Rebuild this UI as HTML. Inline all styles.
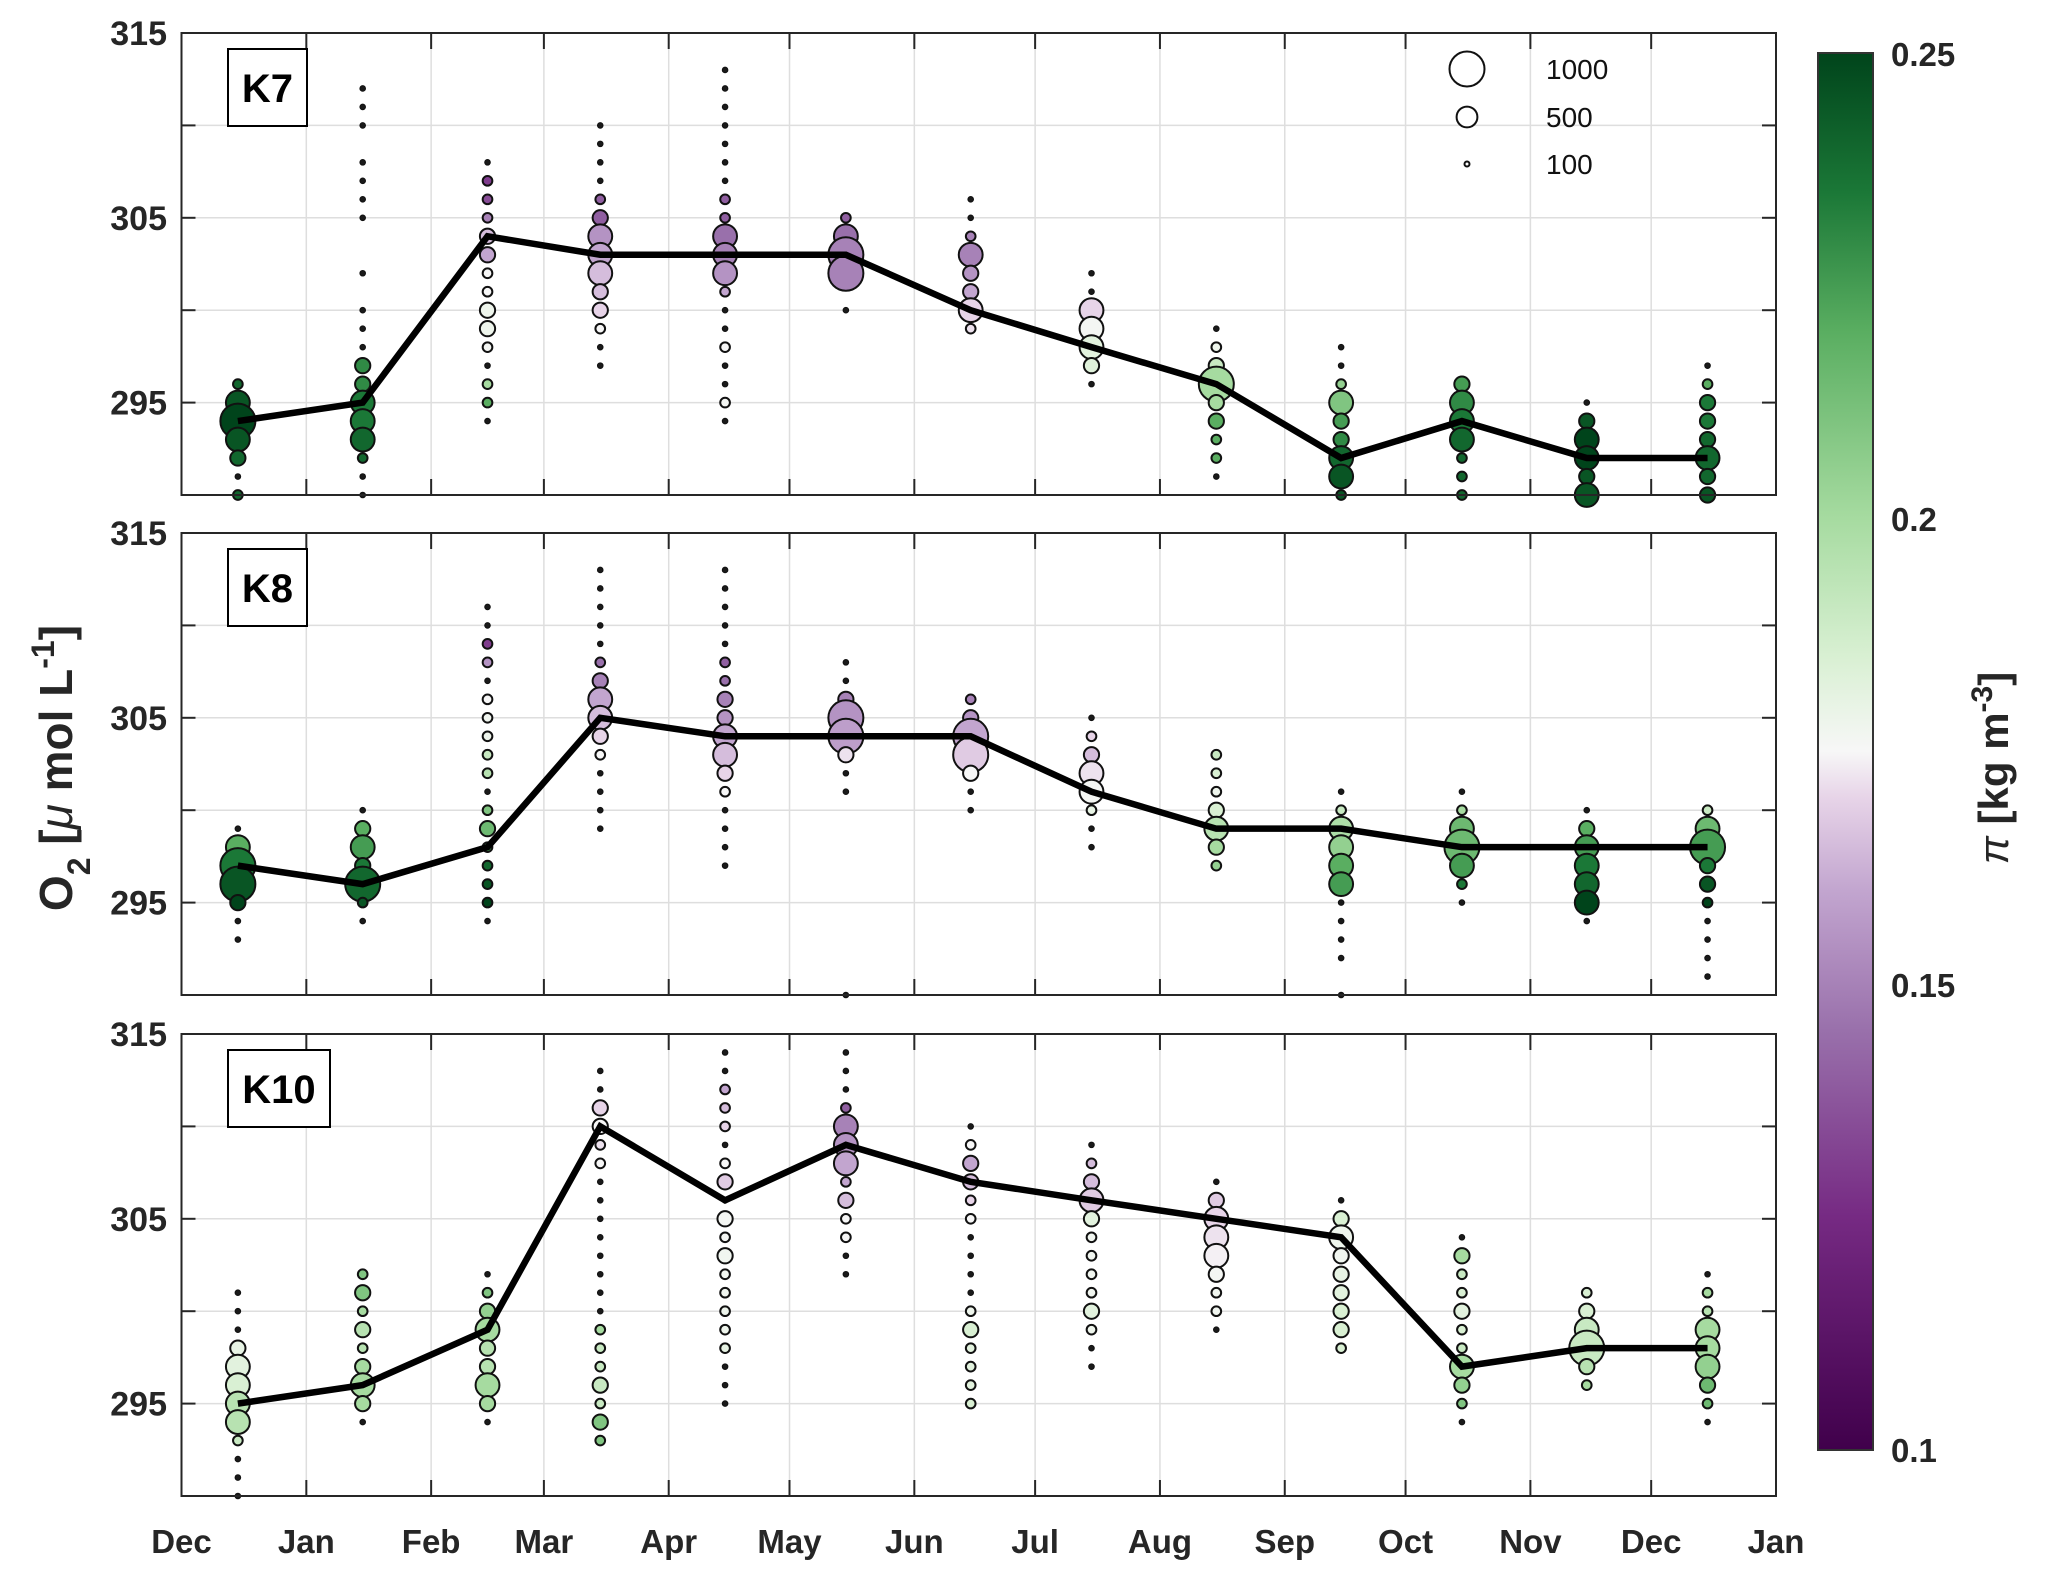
<!DOCTYPE html>
<html><head><meta charset="utf-8"><style>
html,body{margin:0;padding:0;background:#fff;}
svg{display:block;font-family:"Liberation Sans",Arial,sans-serif;}
</style></head><body>
<svg id="chart" width="2067" height="1572" viewBox="0 0 2067 1572" xmlns="http://www.w3.org/2000/svg">
<defs>
<linearGradient id="cmap" x1="0" y1="1" x2="0" y2="0">
<stop offset="0" stop-color="#40004b"/><stop offset="0.167" stop-color="#762a83"/><stop offset="0.3" stop-color="#9970ab"/><stop offset="0.4" stop-color="#c2a5cf"/><stop offset="0.467" stop-color="#e7d4e8"/><stop offset="0.5" stop-color="#f7f7f7"/><stop offset="0.567" stop-color="#d9f0d3"/><stop offset="0.667" stop-color="#a6dba0"/><stop offset="0.8" stop-color="#5aae61"/><stop offset="0.9" stop-color="#1b7837"/><stop offset="1" stop-color="#00441b"/>
</linearGradient>
</defs>
<g id="panels"></g>
<g>
<rect x="1818" y="53" width="55" height="1397" fill="url(#cmap)" stroke="#333" stroke-width="2"/>
<text x="1891" y="66" font-size="33" font-weight="bold" fill="#262626">0.25</text>
<text x="1891" y="531" font-size="33" font-weight="bold" fill="#262626">0.2</text>
<text x="1891" y="997" font-size="33" font-weight="bold" fill="#262626">0.15</text>
<text x="1891" y="1462" font-size="33" font-weight="bold" fill="#262626">0.1</text>
<text transform="translate(2008,768) rotate(-90)" text-anchor="middle" font-size="42" font-weight="bold" fill="#262626"><tspan font-style="italic" font-weight="normal">π</tspan> [kg m<tspan baseline-shift="super" font-size="30">-3</tspan>]</text>
</g>
<text transform="translate(72,768) rotate(-90)" text-anchor="middle" font-size="46" font-weight="bold" fill="#262626">O<tspan baseline-shift="sub" font-size="32">2</tspan> [<tspan font-style="italic" font-weight="normal">μ</tspan> mol L<tspan baseline-shift="super" font-size="32">-1</tspan>]</text>
</svg>
<script>
// ----- data -----
const months = ["Dec","Jan","Feb","Mar","Apr","May","Jun","Jul","Aug","Sep","Oct","Nov","Dec","Jan"];
const monthStartDays = [0,31,62,90,121,151,182,212,243,274,304,335,365,396];
const yTicks = [315,305,295];
const stations = ["K7","K8","K10"];
const k7Line = [294,295,304,303,303,303,300,298,296,292,294,292,292];
const k8Line = [297,296,298,305,304,304,304,301,299,299,298,298,298];
const k10Line = [295,296,299,310,306,309,307,306,305,304,297,298,298];
const legendCounts = [1000,500,100];
// columns: [monthIndex, topO2, [[count, pi], ...]] dots descend 1 unit each
const k7Dots = [
[0,296,[[180,.24],[600,.245],[1000,.25],[600,.245],[330,.24],[60,.24],[180,.24]]],
[1,312,[[60,.17],[60,.17],[60,.17],[0,0],[60,.17],[60,.17],[60,.17],[60,.17],[0,0],[0,0],[60,.17],[0,0],[60,.17],[60,.17],[60,.17],[330,.23],[330,.23],[600,.235],[600,.235],[600,.24],[180,.24],[60,.24],[60,.24]]],
[2,308,[[60,.17],[180,.13],[180,.135],[180,.15],[330,.165],[330,.16],[180,.175],[180,.175],[330,.178],[330,.178],[180,.176],[60,.17],[180,.2],[180,.22],[60,.17]]],
[3,310,[[60,.17],[60,.17],[60,.17],[60,.17],[180,.14],[330,.14],[600,.155],[600,.16],[600,.165],[330,.165],[330,.17],[180,.175],[60,.17],[60,.17]]],
[4,313,[[60,.17],[60,.17],[60,.17],[60,.17],[60,.17],[60,.17],[60,.17],[180,.14],[180,.14],[600,.145],[600,.15],[600,.155],[180,.16],[60,.17],[60,.17],[180,.175],[60,.17],[60,.17],[180,.176],[60,.17]]],
[5,305,[[180,.14],[600,.145],[1000,.15],[1000,.15],[0,0],[60,.17]]],
[6,306,[[60,.17],[60,.17],[180,.15],[600,.15],[330,.155],[330,.16],[600,.17],[180,.172]]],
[7,302,[[60,.17],[60,.17],[600,.17],[600,.176],[600,.182],[330,.183],[60,.17]]],
[8,299,[[60,.17],[180,.178],[330,.19],[1000,.2],[330,.2],[330,.22],[180,.22],[180,.22],[60,.2]]],
[9,298,[[60,.17],[60,.17],[180,.205],[600,.21],[330,.225],[330,.23],[600,.24],[600,.245],[180,.245]]],
[10,296,[[330,.225],[600,.23],[600,.235],[600,.24],[180,.24],[180,.24],[180,.24]]],
[11,295,[[60,.2],[330,.245],[600,.25],[600,.25],[330,.245],[600,.245]]],
[12,297,[[60,.17],[180,.22],[330,.235],[330,.235],[330,.24],[600,.24],[330,.24],[330,.245]]]
];
const k8Dots = [
[0,299,[[60,.2],[600,.22],[1000,.235],[1000,.245],[330,.25],[60,.24],[60,.24]]],
[1,300,[[60,.2],[330,.22],[600,.225],[330,.235],[1000,.24],[180,.245],[60,.24]]],
[2,311,[[60,.17],[60,.17],[180,.13],[180,.155],[60,.17],[180,.175],[180,.177],[180,.178],[180,.19],[180,.195],[60,.19],[180,.21],[330,.215],[180,.225],[180,.24],[180,.245],[180,.25],[60,.24]]],
[3,313,[[60,.17],[60,.17],[60,.17],[60,.17],[60,.17],[180,.145],[330,.15],[600,.16],[600,.165],[330,.17],[180,.175],[60,.17],[60,.17],[60,.17],[60,.17]]],
[4,313,[[60,.17],[60,.17],[60,.17],[60,.17],[60,.17],[180,.14],[180,.145],[330,.15],[330,.155],[600,.16],[600,.165],[330,.17],[180,.175],[60,.17],[60,.17],[60,.17],[60,.17]]],
[5,308,[[60,.17],[60,.17],[330,.15],[1000,.155],[1000,.158],[330,.172],[60,.17],[60,.17],[0,0],[0,0],[0,0],[0,0],[0,0],[0,0],[0,0],[0,0],[0,0],[0,0],[60,.17]]],
[6,306,[[180,.15],[330,.155],[1000,.16],[1000,.168],[330,.175],[60,.17],[60,.17]]],
[7,305,[[60,.17],[180,.17],[330,.165],[600,.172],[600,.176],[180,.18],[60,.17],[60,.17]]],
[8,303,[[180,.19],[180,.185],[180,.178],[330,.185],[600,.195],[330,.2],[180,.205]]],
[9,301,[[60,.18],[180,.19],[600,.198],[600,.205],[600,.22],[600,.225],[60,.2],[60,.2],[60,.2],[60,.2],[0,0],[60,.2]]],
[10,301,[[60,.18],[180,.2],[600,.215],[1000,.215],[600,.225],[180,.235],[60,.2]]],
[11,300,[[60,.18],[330,.22],[600,.225],[600,.235],[600,.24],[600,.25],[60,.2]]],
[12,300,[[180,.19],[600,.215],[1000,.225],[330,.235],[330,.245],[180,.25],[60,.2],[60,.2],[60,.2],[60,.2]]]
];
const k10Dots = [
[0,301,[[60,.17],[60,.17],[60,.17],[330,.18],[600,.182],[600,.185],[600,.195],[600,.195],[180,.19],[60,.17],[60,.17],[60,.17]]],
[1,302,[[180,.21],[330,.21],[180,.2],[330,.195],[180,.195],[330,.2],[600,.2],[330,.2],[60,.17]]],
[2,302,[[60,.17],[180,.21],[330,.205],[600,.2],[330,.195],[330,.195],[600,.2],[330,.2],[60,.17]]],
[3,313,[[60,.17],[60,.17],[330,.17],[330,.175],[180,.172],[180,.175],[60,.17],[60,.17],[60,.17],[60,.17],[60,.17],[60,.17],[60,.17],[60,.17],[180,.2],[180,.19],[180,.19],[330,.19],[180,.19],[330,.21],[180,.21]]],
[4,314,[[60,.17],[60,.17],[180,.16],[180,.165],[180,.17],[60,.17],[180,.175],[330,.168],[60,.17],[330,.176],[180,.176],[330,.177],[180,.177],[180,.177],[180,.178],[180,.178],[180,.18],[60,.17],[60,.17],[60,.17]]],
[5,314,[[60,.17],[60,.17],[60,.17],[180,.14],[600,.15],[600,.155],[600,.16],[180,.16],[330,.165],[180,.175],[180,.175],[60,.17],[60,.17]]],
[6,310,[[60,.17],[180,.175],[330,.16],[330,.165],[180,.17],[180,.175],[60,.17],[60,.17],[60,.17],[60,.17],[180,.178],[330,.185],[180,.182],[180,.182],[180,.182],[180,.185]]],
[7,309,[[60,.17],[180,.165],[330,.165],[600,.168],[330,.182],[180,.177],[180,.177],[180,.177],[180,.177],[330,.182],[180,.178],[60,.17],[60,.17]]],
[8,307,[[60,.17],[330,.168],[600,.17],[600,.172],[600,.174],[330,.176],[180,.177],[180,.177],[60,.17]]],
[9,306,[[60,.17],[330,.185],[600,.178],[330,.177],[330,.18],[330,.182],[330,.185],[330,.185],[180,.185]]],
[10,304,[[60,.17],[330,.2],[180,.19],[180,.185],[330,.182],[180,.185],[180,.19],[600,.2],[330,.205],[180,.21],[60,.17]]],
[11,301,[[180,.185],[330,.185],[600,.19],[1000,.19],[330,.195],[180,.2]]],
[12,302,[[60,.17],[180,.2],[180,.195],[600,.2],[600,.2],[600,.205],[330,.215],[180,.215],[60,.17]]]
];
const lines = [k7Line,k8Line,k10Line];
const dotsets = [k7Dots,k8Dots,k10Dots];

// ----- layout / scales -----
const X0=181.5, X1=1776, PH=462, panelTops=[33,533,1034], YMIN=290, YMAX=315;
const xScale = d => X0 + d/396*(X1-X0);
const monthMid = i => xScale(monthStartDays[i]+14);
const yScale = (v,top) => top + (YMAX-v)/(YMAX-YMIN)*PH;
const rScale = c => 17.5*Math.pow(c/1000,0.75);
const stops=[[0.1,[64,0,75]],[0.125,[118,42,131]],[0.145,[153,112,171]],[0.16,[194,165,207]],[0.17,[231,212,232]],[0.175,[247,247,247]],[0.185,[217,240,211]],[0.2,[166,219,160]],[0.22,[90,174,97]],[0.235,[27,120,55]],[0.25,[0,68,27]]];
function cmap(p){p=Math.max(0.1,Math.min(0.25,p));for(let i=0;i<stops.length-1;i++){const a=stops[i],b=stops[i+1];if(p<=b[0]){const t=(p-a[0])/(b[0]-a[0]);const c=a[1].map((v,k)=>Math.round(v+(b[1][k]-v)*t));return `rgb(${c})`;}}return 'rgb(0,68,27)';}
const NS="http://www.w3.org/2000/svg";
function mk(tag,attrs,parent){const e=document.createElementNS(NS,tag);for(const k in attrs)e.setAttribute(k,attrs[k]);parent.appendChild(e);return e;}
const root=document.getElementById('panels');

stations.forEach((st,si)=>{
  const top=panelTops[si];
  const g=mk('g',{},root);
  
  
  for(let v=295;v<315;v+=5){const gl=mk('line',{x1:X0,x2:X1,y1:yScale(v,top),y2:yScale(v,top),stroke:'#dedede','stroke-width':1.5},g);
    
    }
  for(let i=1;i<13;i++){const x=xScale(monthStartDays[i]);const gl=mk('line',{x1:x,x2:x,y1:top,y2:top+PH,stroke:'#dedede','stroke-width':1.5},g);
    
    }
  for(let i=1;i<13;i++){const x=xScale(monthStartDays[i]);
    mk('line',{x1:x,x2:x,y1:top,y2:top+16,stroke:'#262626','stroke-width':2},g);
    mk('line',{x1:x,x2:x,y1:top+PH,y2:top+PH-16,stroke:'#262626','stroke-width':2},g);}
  for(let v=295;v<315;v+=5){const y=yScale(v,top);
    mk('line',{x1:X0,x2:X0+14,y1:y,y2:y,stroke:'#262626','stroke-width':2},g);
    mk('line',{x1:X1,x2:X1-14,y1:y,y2:y,stroke:'#262626','stroke-width':2},g);}
  yTicks.forEach(v=>{const t=mk('text',{x:167,y:yScale(v,top)+12,'text-anchor':'end','font-size':34,'font-weight':'bold',fill:'#262626'},g);t.textContent=v;
    
    });
  dotsets[si].forEach(col=>{const [m,topv,dots]=col;const x=monthMid(m);
    dots.forEach((d,k)=>{if(!d[0])return;const tiny=d[0]<=60;
      const c=mk('circle',{cx:x,cy:yScale(topv-k,top),r:tiny?2.8:rScale(d[0]),fill:tiny?'#1a1a1a':cmap(d[1]),stroke:'#111','stroke-width':tiny?1:2},g);
      
      });});
  const pts=lines[si].map((v,i)=>monthMid(i)+','+yScale(v,top)).join(' ');
  const pl=mk('polyline',{points:pts,fill:'none',stroke:'#000','stroke-width':6.5,'stroke-linejoin':'miter'},g);
  
  
  const fr=mk('rect',{x:X0,y:top,width:X1-X0,height:PH,fill:'none',stroke:'#262626','stroke-width':2},g);
  
  
  const bw = st.length>2?102:79;
  const lb=mk('rect',{x:228,y:top+16,width:bw,height:77,fill:'#fff',stroke:'#000','stroke-width':2},g);
  
  
  const lt=mk('text',{x:228+bw/2,y:top+69,'text-anchor':'middle','font-size':40,'font-weight':'bold',fill:'#000'},g);
  lt.textContent=st;
  
  
  if(si===0){const ly=[69,117,164];legendCounts.forEach((c,i)=>{
    const lc=mk('circle',{cx:1467,cy:ly[i],r:c<=100?2.5:rScale(c),fill:'#fff',stroke:'#111','stroke-width':2},g);
    
    
    const tt=mk('text',{x:1546,y:ly[i]+10,'font-size':28,fill:'#111'},g);tt.textContent=c;
    
    });}
});
const xg=mk('g',{},root);
months.forEach((m,i)=>{const t=mk('text',{x:xScale(monthStartDays[i]),y:1553,'text-anchor':'middle','font-size':33,'font-weight':'bold',fill:'#262626'},xg);t.textContent=m;
  
  });
</script>
</body></html>
